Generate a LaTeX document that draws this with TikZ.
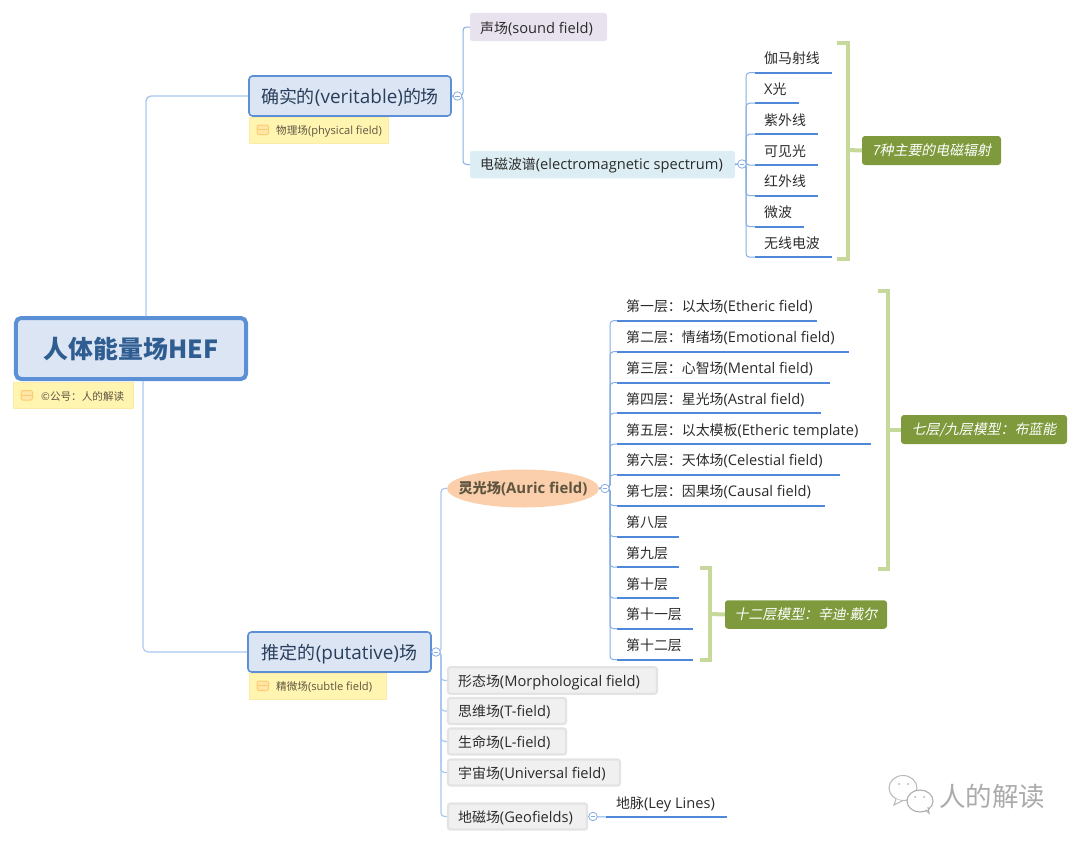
\documentclass[tikz,border=0pt]{standalone}
\usepackage{fontspec}
\setmainfont{Open Sans}
\newfontfamily\zhf[Scale=0.95]{Noto Sans CJK SC}
\newfontfamily\zhit[FakeSlant=0.2,Scale=0.95]{Noto Sans CJK SC}
\newcommand{\zh}[1]{{\zhf #1}}
\usetikzlibrary{shapes.geometric,calc}
\definecolor{rootblue}{HTML}{5B8FD6}
\definecolor{boxfill}{HTML}{DBE5F3}
\definecolor{branchtxt}{HTML}{2A3F5C}
\definecolor{roottxt}{HTML}{2F5D92}
\definecolor{lnk}{HTML}{A9C7EE}
\definecolor{twigc}{HTML}{86ADE3}
\definecolor{undr}{HTML}{4F88D8}
\definecolor{brk}{HTML}{C6D99B}
\definecolor{lab}{HTML}{7E9A3C}
\definecolor{notefill}{HTML}{FFF5B1}
\definecolor{noteedge}{HTML}{FCEBA6}
\definecolor{notetxt}{HTML}{5E5540}
\definecolor{itemtxt}{HTML}{2B2B2B}
\definecolor{soundfill}{HTML}{E8E2EE}
\definecolor{emagfill}{HTML}{DCEEF4}
\definecolor{aurafill}{HTML}{FBCFAB}
\definecolor{iconedge}{HTML}{FDCB72}
\definecolor{iconfill}{HTML}{FFE6A6}
\tikzset{
  rootbox/.style={draw=rootblue,fill=boxfill,line width=4bp,rounded corners=5bp,inner sep=0,text=roottxt,font=\fontsize{26.3}{28}\selectfont\bfseries\zhf},
  branchbox/.style={draw=rootblue,fill=boxfill,line width=1.6bp,rounded corners=3.5bp,inner sep=0,text=branchtxt,font=\fontsize{19}{20}\selectfont,text height=16bp,text depth=1bp},
  notebox/.style={draw=noteedge,fill=notefill,line width=.8bp,inner sep=0},
  notetext/.style={anchor=west,inner sep=0,text=notetxt,font=\fontsize{11.2}{12}\selectfont,text height=9.5bp,text depth=1.5bp},
  softbox/.style={draw=none,rounded corners=2.5bp,inner sep=0},
  graybox/.style={draw=black!11,fill=black!6,line width=2.2bp,rounded corners=2.5bp,inner sep=0},
  itemtext/.style={anchor=west,inner sep=0,text=itemtxt,font=\fontsize{14.7}{16}\selectfont,text height=12.5bp,text depth=1.5bp},
  link/.style={draw=lnk,line width=1.4bp,rounded corners=5bp},
  twig/.style={draw=twigc,line width=1bp,rounded corners=3.5bp},
  under/.style={draw=undr,line width=2.4bp},
  collapse/.style={circle,draw=twigc,fill=white,line width=.8bp,minimum size=8.5bp,inner sep=0},
  bracket/.style={draw=brk,line width=4bp},
  labelbox/.style={draw=none,fill=lab,rounded corners=3bp,inner sep=0,text=white,font=\fontsize{14.7}{16}\selectfont\zhit}
}
\newcommand{\leaf}[5]{%
  \coordinate (#1-l) at (#4,#3+14.7);
  \coordinate (#1-r) at (#5,#3+14.7);
  \draw[under] (#1-l) -- (#1-r);
  \node[itemtext] (#1) at (#2,#3)}
\newcommand{\noteicon}[2]{%
  \draw[draw=iconedge,fill=iconfill,line width=1bp,rounded corners=1.5bp] (#1,#2) rectangle +(11.5,9.5);
  \draw[draw=iconedge,line width=1bp] (#1,#2+4.75) -- +(11.5,0);}
\newcommand{\minuscirc}[2]{%
  \node[collapse] (#1) at #2 {};
  \draw[draw=twigc,line width=.7bp] ($(#1)+(-2.4,0)$) -- ($(#1)+(2.4,0)$);}
\begin{document}
\begin{tikzpicture}[x=1bp,y=-1bp]
\useasboundingbox (0,0) rectangle (1080,844);
% main nodes
\node[branchbox,minimum width=202bp,minimum height=40bp] (verit) at (350,96) {\zh{确实的}(veritable)\zh{的场}};
\node[branchbox,minimum width=183bp,minimum height=40bp] (putat) at (339.5,652) {\zh{推定的}(putative)\zh{场}};
\node[rootbox,minimum width=230bp,minimum height=61bp] (root) at (131,348.5) {人体能量场HEF};
% root connectors
\coordinate (rootup) at (146,316);
\coordinate (rootdn) at (143,381);
\draw[link] (rootup) |- (verit.west);
\draw[link,line width=1.1bp] (rootdn) |- (putat.west);
% notes
\node[notebox,minimum width=120bp,minimum height=26.5bp] (rootnote) at (73,395.5) {};
\noteicon{21}{390.5}
\node[notetext] (rootnotet) at (41,396) {\zh{©公号：人的解读}};
\node[notebox,minimum width=139bp,minimum height=26bp] (vernote) at (318.5,130) {};
\noteicon{257}{125}
\node[notetext] (vernotet) at (276,130.5) {\zh{物理场}(physical field)};
\node[notebox,minimum width=137bp,minimum height=26bp] (putnote) at (317.5,686) {};
\noteicon{257}{681}
\node[notetext] (putnotet) at (276,686.5) {\zh{精微场}(subtle field)};
% upper branch
\node[softbox,fill=soundfill,minimum width=137bp,minimum height=28bp] (sound) at (538.5,27) {};
\node[itemtext] (soundt) at (480,27.5) {\zh{声场}(sound field)};
\node[softbox,fill=emagfill,minimum width=265bp,minimum height=27.5bp] (emag) at (602.5,164.5) {};
\node[itemtext] (emagt) at (480,164) {\zh{电磁波谱}(electromagnetic spectrum)};
\coordinate (s1) at (463,96);
\draw[twig] (verit.east) -- (s1) |- (sound.west);
\draw[twig] (verit.east) -- (s1) |- (emag.west);
\minuscirc{c1}{(457.5,96)}
% EM leaves
\coordinate (s2) at (746,164);
\leaf{g1}{764}{58}{755}{832}{\zh{伽马射线}};
\leaf{g2}{764}{88.5}{755}{799}{X\zh{光}};
\leaf{g3}{764}{119.5}{755}{818}{\zh{紫外线}};
\leaf{g4}{764}{150.5}{755}{818}{\zh{可见光}};
\leaf{g5}{764}{181}{755}{818}{\zh{红外线}};
\leaf{g6}{764}{212}{755}{804}{\zh{微波}};
\leaf{g7}{764}{242.5}{755}{832}{\zh{无线电波}};
\foreach \n in {g1,g2,g3,g4,g5,g6,g7}{\draw[twig] (emag.east) -- (s2) |- (\n-l);}
\minuscirc{c2}{(742,164)}
% bracket 1
\coordinate (b1a) at (837,43); \coordinate (b1b) at (837,259); \coordinate (b1m) at (848,150);
\node[labelbox,minimum width=139bp,minimum height=29bp] (lab1) at (931.5,150.5) {7种主要的电磁辐射};
\draw[bracket] (b1a) -| (b1m) |- (b1b);
\draw[bracket] (b1m) -- (lab1.west);
% aura
\node[ellipse,draw=none,fill=aurafill,minimum width=152bp,minimum height=38bp,inner sep=0] (aura) at (523,488.5) {};
\node[inner sep=0,text=notetxt,font=\fontsize{15}{16}\selectfont\bfseries] (aurat) at (523,488.5) {\zh{灵光场}(Auric field)};
\coordinate (s3) at (441,652);
\coordinate (s4) at (610,488);
\leaf{l1}{626}{306}{617}{817}{\zh{第一层：以太场}(Etheric field)};
\leaf{l2}{626}{337}{617}{849}{\zh{第二层：情绪场}(Emotional field)};
\leaf{l3}{626}{368}{617}{830}{\zh{第三层：心智场}(Mental field)};
\leaf{l4}{626}{398.5}{617}{821}{\zh{第四层：星光场}(Astral field)};
\leaf{l5}{626}{429.5}{617}{871}{\zh{第五层：以太模板}(Etheric template)};
\leaf{l6}{626}{460}{617}{840}{\zh{第六层：天体场}(Celestial field)};
\leaf{l7}{626}{491}{617}{825}{\zh{第七层：因果场}(Causal field)};
\leaf{l8}{626}{522}{617}{679}{\zh{第八层}};
\leaf{l9}{626}{552.5}{617}{679}{\zh{第九层}};
\leaf{l10}{626}{583.5}{617}{679}{\zh{第十层}};
\leaf{l11}{626}{614}{617}{693}{\zh{第十一层}};
\leaf{l12}{626}{645}{617}{693}{\zh{第十二层}};
\foreach \n in {l1,l2,l3,l4,l5,l6,l7,l8,l9,l10,l11,l12}{\draw[twig] (aura.east) -- (s4) |- (\n-l);}
\minuscirc{c4}{(605,488.5)}
% brackets 2, 3
\coordinate (b2a) at (878,291); \coordinate (b2b) at (878,569); \coordinate (b2m) at (888,429.5);
\node[labelbox,minimum width=166bp,minimum height=29bp] (lab2) at (984,429.5) {七层/九层模型：布蓝能};
\draw[bracket] (b2a) -| (b2m) |- (b2b);
\draw[bracket] (b2m) -- (lab2.west);
\coordinate (b3a) at (700,568); \coordinate (b3b) at (700,660); \coordinate (b3m) at (710,614);
\node[labelbox,minimum width=162bp,minimum height=28.5bp] (lab3) at (806,614.5) {十二层模型：辛迪{\rmfamily\itshape ·}戴尔};
\draw[bracket] (b3a) -| (b3m) |- (b3b);
\draw[bracket] (b3m) -- (lab3.west);
% lower branch
\node[graybox,minimum width=209bp,minimum height=26.5bp] (morph) at (552.5,680.5) {};
\node[itemtext] (morpht) at (458,680.5) {\zh{形态场}(Morphological field)};
\node[graybox,minimum width=118bp,minimum height=26bp] (tfield) at (507,711) {};
\node[itemtext] (tfieldt) at (458,711) {\zh{思维场}(T-field)};
\node[graybox,minimum width=118bp,minimum height=26bp] (lfield) at (507,741.5) {};
\node[itemtext] (lfieldt) at (458,741.5) {\zh{生命场}(L-field)};
\node[graybox,minimum width=172bp,minimum height=26bp] (univ) at (534,772.5) {};
\node[itemtext] (univt) at (458,772.5) {\zh{宇宙场}(Universal field)};
\node[graybox,minimum width=139bp,minimum height=26bp] (geo) at (517.5,816.5) {};
\node[itemtext] (geot) at (458,816.5) {\zh{地磁场}(Geofields)};
\foreach \n in {aura,morph,tfield,lfield,univ,geo}{\draw[twig,draw=lnk,line width=1.2bp] (putat.east) -- (s3) |- (\n.west);}
\minuscirc{c3}{(436,652)}
% geo child
\coordinate (ley-l) at (606,817); \coordinate (ley-r) at (727,817);
\draw[under] (ley-l) -- (ley-r);
\node[itemtext] (ley) at (616,803) {\zh{地脉}(Ley Lines)};
\draw[twig] (geo.east) -- (ley-l);
\minuscirc{c5}{(593,816.5)}
% watermark
\draw[black!28,line width=1bp,fill=white] (903,788) ellipse [x radius=14,y radius=12.5];
\draw[black!28,line width=1bp,fill=white] (896,799) -- (894,805) -- (902,801);
\draw[black!32,line width=1.1bp,fill=white] (920,801) ellipse [x radius=13,y radius=11];
\draw[black!32,line width=1.1bp,fill=white] (926,810) -- (929,813) -- (928,807);
\fill[black!30] (899,784) circle (1) (908,784) circle (1) (915,797) circle (1) (924,797) circle (1);
\node[anchor=west,inner sep=0,text=black!33,font=\fontsize{28}{30}\selectfont\zhf] (wm) at (939,796) {人的解读};
\end{tikzpicture}
\end{document}
